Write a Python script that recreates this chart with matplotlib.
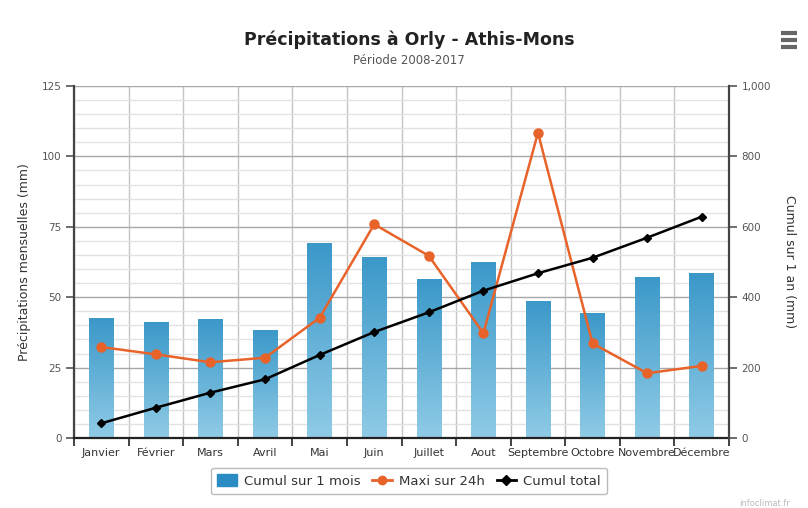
import matplotlib.pyplot as plt
import matplotlib.ticker as mticker
from matplotlib.colors import LinearSegmentedColormap
from matplotlib.lines import Line2D
import numpy as np

plt.rcParams['font.family'] = ['DejaVu Sans']

months = ['Janvier', 'Février', 'Mars', 'Avril', 'Mai', 'Juin', 'Juillet',
          'Aout', 'Septembre', 'Octobre', 'Novembre', 'Décembre']
cumul_mois = [42.6, 41.3, 42.1, 38.4, 69.1, 64.3, 56.3, 62.6, 48.8, 44.5, 57.3, 58.5]
maxi_24h = [32.3, 29.7, 26.9, 28.5, 42.7, 75.9, 64.7, 37.2, 108.4, 33.6, 23.0, 25.6]
cumul_total = [41.7, 86.0, 128.8, 166.7, 235.8, 301.0, 357.0, 418.5, 468.0, 512.0, 569.0, 628.7]

fig = plt.figure(figsize=(8.08, 5.08), dpi=100)
fig.patch.set_facecolor('white')
ax = fig.add_axes([74 / 808, 1 - 438 / 508, 655 / 808, 352 / 508])
ax2 = ax.twinx()

x = np.arange(len(months))

# bars with a vertical gradient, dark at the top
bar_cmap = LinearSegmentedColormap.from_list('bar', ['#8fcbe6', '#3b98c9'])
bars = ax.bar(x, cumul_mois, width=0.45, color='#3b98c9', lw=0, zorder=2)
grad = np.linspace(0, 1, 256).reshape(-1, 1)
for b in bars:
    x0, y0 = b.get_x(), b.get_y()
    w, h = b.get_width(), b.get_height()
    im = ax.imshow(grad, cmap=bar_cmap, origin='lower', aspect='auto',
                   extent=(x0, x0 + w, y0, y0 + h), zorder=2.1)
    im.set_clip_path(b)

ax.plot(x, maxi_24h, color='#e8632a', lw=1.8, marker='o', ms=6.5, zorder=3)
ax2.plot(x, cumul_total, color='black', lw=1.8, marker='D', ms=4.5, zorder=3)

ax.set_xlim(-0.5, 11.5)
ax.set_ylim(0, 125)
ax2.set_ylim(0, 1000)

ax.set_xticks(x)
ax.set_xticklabels(months)
ax.set_xticks(np.arange(-0.5, 12, 1), minor=True)
ax.tick_params(axis='x', which='major', length=0, labelsize=8, colors='#333333', pad=7)
ax.tick_params(axis='x', which='minor', length=6, width=1.2, color='#222222')

ax.set_yticks(np.arange(0, 126, 25))
ax.yaxis.set_minor_locator(mticker.MultipleLocator(5))
ax.tick_params(axis='y', which='major', length=6, width=1.2, labelsize=7.5,
               colors='#555555', pad=3)
ax.tick_params(axis='y', which='minor', length=0)

ax2.set_yticks(np.arange(0, 1001, 200))
ax2.yaxis.set_major_formatter(mticker.FuncFormatter(lambda v, p: f'{int(v):,}'))
ax2.tick_params(axis='y', length=6, width=1.2, labelsize=7.5, colors='#555555', pad=3)

ax.grid(True, which='major', axis='y', color='#a8a8a8', lw=1, zorder=0)
ax.grid(True, which='minor', axis='y', color='#e2e2e2', lw=1, zorder=0)
ax.grid(True, which='minor', axis='x', color='#c4c4c4', lw=1, zorder=0)
ax.set_axisbelow(True)

for a in (ax, ax2):
    a.spines['top'].set_visible(False)
    a.spines['left'].set_color('#444444')
    a.spines['right'].set_color('#444444')
    a.spines['bottom'].set_color('#222222')
    a.spines['left'].set_linewidth(1.6)
    a.spines['right'].set_linewidth(1.6)
    a.spines['bottom'].set_linewidth(1.6)
ax.spines['right'].set_visible(False)
ax2.spines['left'].set_visible(False)
ax2.spines['bottom'].set_visible(False)

ax.set_ylabel('Précipitations mensuelles (mm)', fontsize=9, color='#333333', labelpad=8)
ax2.set_ylabel('Cumul sur 1 an (mm)', fontsize=9, color='#333333', rotation=-90,
               labelpad=18)

fig.text(409 / 808, 1 - 40 / 508, 'Précipitations à Orly - Athis-Mons',
         ha='center', va='center', fontsize=12.5, fontweight='bold', color='#222222')
fig.text(409 / 808, 1 - 61 / 508, 'Période 2008-2017',
         ha='center', va='center', fontsize=8.5, color='#555555')

# menu icon in the corner
for yy in (33, 40, 47):
    fig.add_artist(Line2D([781 / 808, 797 / 808], [1 - yy / 508] * 2,
                          color='#666666', lw=3, solid_capstyle='butt'))

handles = [
    plt.Rectangle((0, 0), 1, 1, color='#2b8cc4'),
    Line2D([], [], color='#e8632a', lw=2, marker='o', ms=6),
    Line2D([], [], color='black', lw=2, marker='D', ms=5),
]
fig.legend(handles, ['Cumul sur 1 mois', 'Maxi sur 24h', 'Cumul total'],
           loc='center', bbox_to_anchor=(409 / 808, 1 - 481 / 508), ncol=3,
           fontsize=9.5, frameon=True, edgecolor='#aaaaaa', fancybox=True,
           handlelength=1.5, handleheight=1.0, handletextpad=0.5, columnspacing=0.9,
           borderpad=0.5, labelcolor='#333333')

fig.text(790 / 808, 1 - 503 / 508, 'infoclimat.fr', ha='right', va='center',
         fontsize=6, color='#bbbbbb')

fig.savefig('out.png', dpi=100, facecolor=fig.get_facecolor())
